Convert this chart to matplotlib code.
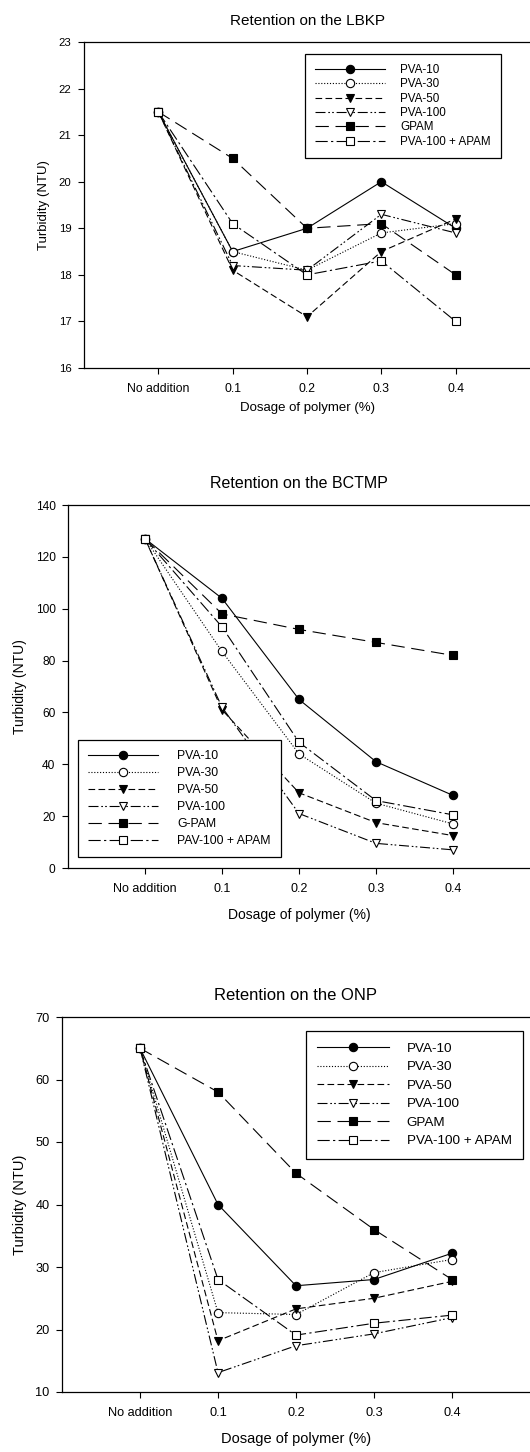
import matplotlib
matplotlib.use("Agg")
import matplotlib.pyplot as plt

plt.rcParams['font.family'] = ['Liberation Sans', 'DejaVu Sans']

categories = ["No addition", "0.1", "0.2", "0.3", "0.4"]

# Retention on the LBKP
lbkp_pva10 = [21.5, 18.5, 19.0, 20.0, 19.0]
lbkp_pva30 = [21.5, 18.5, 18.1, 18.9, 19.1]
lbkp_pva50 = [21.5, 18.1, 17.1, 18.5, 19.2]
lbkp_pva100 = [21.5, 18.2, 18.1, 19.3, 18.9]
lbkp_gpam = [21.5, 20.5, 19.0, 19.1, 18.0]
lbkp_apam = [21.5, 19.1, 18.0, 18.3, 17.0]
lbkp_labels = ["PVA-10", "PVA-30", "PVA-50", "PVA-100", "GPAM", "PVA-100 + APAM"]
lbkp_yticks = [16, 17, 18, 19, 20, 21, 22, 23]

# Retention on the BCTMP
bctmp_pva10 = [127, 104, 65, 41, 28]
bctmp_pva30 = [127, 83.5, 44, 25, 17]
bctmp_pva50 = [127, 61, 29, 17.5, 12.5]
bctmp_pva100 = [127, 62, 21, 9.5, 7]
bctmp_gpam = [127, 98, 92, 87, 82]
bctmp_apam = [127, 93, 48.5, 26, 20.5]
bctmp_labels = ["PVA-10", "PVA-30", "PVA-50", "PVA-100", "G-PAM", "PAV-100 + APAM"]
bctmp_yticks = [0, 20, 40, 60, 80, 100, 120, 140]

# Retention on the ONP
onp_pva10 = [65, 40, 27, 28, 32.2]
onp_pva30 = [65, 22.7, 22.4, 29.1, 31.2]
onp_pva50 = [65, 18.2, 23.3, 25, 27.7]
onp_pva100 = [65, 13.1, 17.4, 19.3, 21.9]
onp_gpam = [65, 58, 45, 36, 28]
onp_apam = [65, 28, 19.1, 21, 22.3]
onp_labels = ["PVA-10", "PVA-30", "PVA-50", "PVA-100", "GPAM", "PVA-100 + APAM"]
onp_yticks = [10, 20, 30, 40, 50, 60, 70]

# line style / marker per series (same order in every panel)
styles = [
    dict(ls='-', marker='o', mfc='black'),
    dict(ls=(0, (1, 1.6)), marker='o', mfc='white'),
    dict(ls=(0, (6, 3)), marker='v', mfc='black'),
    dict(ls=(0, (9, 2.5, 1.5, 2, 1.5, 2.5)), marker='v', mfc='white'),
    dict(ls=(0, (12, 6)), marker='s', mfc='black'),
    dict(ls=(0, (11, 3, 2, 3)), marker='s', mfc='white'),
]

W, H = 530, 1452
fig = plt.figure(figsize=(W / 100, H / 100), dpi=100)


def panel(rect, title, series, labels, yticks, leg_anchor, leg_fs, leg_spacing,
          handle_len, text_pad, xtick_fs, ytick_fs, label_fs, title_fs, xlabel_pad):
    ax = fig.add_axes(rect)
    x = list(range(len(categories)))
    for vals, lab, st in zip(series, labels, styles):
        ax.plot(x, vals, color='black', lw=0.8, ls=st['ls'], marker=st['marker'],
                mfc=st['mfc'], mec='black', mew=0.8, ms=6, label=lab)
    ax.set_xlim(-1, 5)
    ax.set_ylim(yticks[0], yticks[-1])
    ax.set_yticks(yticks)
    ax.set_xticks(x)
    ax.set_xticklabels(categories)
    ax.tick_params(direction='out', length=4, width=0.8, pad=5)
    ax.tick_params(axis='x', labelsize=xtick_fs, pad=7)
    ax.tick_params(axis='y', labelsize=ytick_fs)
    for s in ('left', 'bottom', 'top'):
        ax.spines[s].set_linewidth(0.9)
    ax.spines['right'].set_visible(False)
    ax.set_title(title, fontsize=title_fs, pad=12)
    ax.set_ylabel("Turbidity (NTU)", fontsize=label_fs, labelpad=6)
    ax.set_xlabel("Dosage of polymer (%)", fontsize=label_fs, labelpad=xlabel_pad)
    leg = ax.legend(loc='upper left', bbox_to_anchor=leg_anchor, fontsize=leg_fs,
                    frameon=True, fancybox=False, framealpha=1, edgecolor='black',
                    handlelength=handle_len, handletextpad=text_pad,
                    labelspacing=leg_spacing, borderpad=0.85, borderaxespad=0,
                    numpoints=1)
    leg.get_frame().set_linewidth(0.9)
    return ax


panel([84 / W, 1 - 368 / H, 1 - 84 / W, 326 / H], "Retention on the LBKP",
      [lbkp_pva10, lbkp_pva30, lbkp_pva50, lbkp_pva100, lbkp_gpam, lbkp_apam],
      lbkp_labels, lbkp_yticks, (0.4955, 0.963), 8.4, 0.2, 6.0, 1.3,
      8.8, 8.2, 9.5, 11, 5)

panel([68 / W, 1 - 868 / H, 1 - 68 / W, 363 / H], "Retention on the BCTMP",
      [bctmp_pva10, bctmp_pva30, bctmp_pva50, bctmp_pva100, bctmp_gpam, bctmp_apam],
      bctmp_labels, bctmp_yticks, (0.0216, 0.3526), 8.8, 0.4, 5.7, 1.55,
      9, 8.6, 10, 11.5, 9)

panel([62 / W, 1 - 1392 / H, 1 - 62 / W, 375 / H], "Retention on the ONP",
      [onp_pva10, onp_pva30, onp_pva50, onp_pva100, onp_gpam, onp_apam],
      onp_labels, onp_yticks, (0.521, 0.9627), 9.7, 0.45, 5.3, 1.35,
      9.2, 9.2, 10.5, 12, 9)

fig.savefig("out.png", dpi=100)
